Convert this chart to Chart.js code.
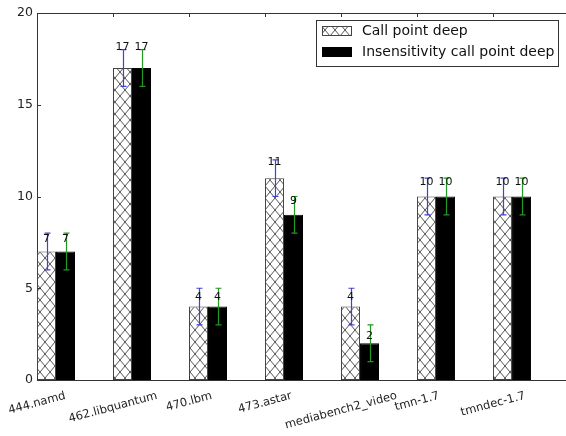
<!DOCTYPE html>
<html lang="en">
<head>
<meta charset="UTF-8">
<title>Call point deep</title>
<script src="https://cdn.jsdelivr.net/npm/chart.js"></script>
<style>
  html, body { margin: 0; padding: 0; background: #fff; }
</style>
</head>
<body>
<canvas id="chart" width="566" height="436"></canvas>
<script>
// benchmark names and measured values
const benchmarks = ['444.namd', '462.libquantum', '470.lbm', '473.astar', 'mediabench2_video', 'tmn-1.7', 'tmndec-1.7'];
const callPointDeep = [7, 17, 4, 11, 4, 10, 10];
const insensitivityDeep = [7, 17, 4, 9, 2, 10, 10];
const callPointErr = [1, 1, 1, 1, 1, 1, 1];
const insensitivityErr = [1, 1, 1, 1, 1, 1, 1];
const yTickValues = [0, 5, 10, 15, 20];

Chart.defaults.font.family = '"DejaVu Sans", sans-serif';

const canvas = document.getElementById('chart');
const ctx = canvas.getContext('2d');

// crosshatch fill like matplotlib 'x' hatch
function makeHatch() {
    const c = document.createElement('canvas');
    c.width = 10;
    c.height = 12;
    const g = c.getContext('2d');
    g.fillStyle = '#fff';
    g.fillRect(0, 0, 10, 12);
    g.strokeStyle = '#555';
    g.lineWidth = 1;
    g.beginPath();
    for (const dx of [-10, 0, 10]) {
        g.moveTo(dx, 0); g.lineTo(dx + 10, 12);
        g.moveTo(dx, 12); g.lineTo(dx + 10, 0);
    }
    g.stroke();
    return ctx.createPattern(c, 'repeat');
}
const hatch = makeHatch();

// center the rotated x labels on their ticks (matplotlib style)
const centerXLabels = {
    id: 'centerXLabels',
    beforeDraw(chart) {
        const sc = chart.scales.x;
        const c = chart.ctx;
        const rot = sc.labelRotation * Math.PI / 180;
        sc.getLabelItems().forEach((item, i) => {
            c.save();
            c.font = item.font.string;
            const w = c.measureText(item.label).width;
            c.restore();
            const h = item.font.size * 1.2;
            const boxH = w * Math.sin(rot) + h * Math.cos(rot);
            item.options.textAlign = 'center';
            item.options.textBaseline = 'middle';
            item.options.translation = [sc.getPixelForTick(i), sc.top + sc.options.ticks.padding + boxH / 2];
            item.textOffset = 0;
        });
    }
};

// inward tick marks, error bars and value labels
const extras = {
    id: 'extras',
    afterDatasetsDraw(chart) {
        const c = chart.ctx;
        const { x, y } = chart.scales;
        const area = chart.chartArea;
        c.save();
        c.strokeStyle = '#333';
        c.lineWidth = 1;
        c.beginPath();
        x.ticks.forEach(t => {
            const px = Math.round(x.getPixelForValue(t.value)) + 0.5;
            c.moveTo(px, area.top); c.lineTo(px, area.top + 4);
            c.moveTo(px, area.bottom); c.lineTo(px, area.bottom - 4);
        });
        y.ticks.forEach(t => {
            const py = Math.round(y.getPixelForValue(t.value)) + 0.5;
            c.moveTo(area.left, py); c.lineTo(area.left + 4, py);
        });
        c.stroke();

        chart.data.datasets.forEach((ds, di) => {
            const meta = chart.getDatasetMeta(di);
            meta.data.forEach((bar, i) => {
                const v = ds.data[i].y;
                const e = ds.errors[i];
                const cx = Math.round(bar.x) + 0.5;
                const yTop = y.getPixelForValue(v + e);
                const yBot = y.getPixelForValue(v - e);
                c.strokeStyle = ds.errColor;
                c.lineWidth = 1.2;
                c.beginPath();
                c.moveTo(cx, yTop); c.lineTo(cx, yBot);
                c.moveTo(cx - 3, yTop); c.lineTo(cx + 3, yTop);
                c.moveTo(cx - 3, yBot); c.lineTo(cx + 3, yBot);
                c.stroke();

                c.fillStyle = '#111';
                c.font = '11px "DejaVu Sans"';
                c.textAlign = 'center';
                c.textBaseline = 'bottom';
                c.fillText(String(v), bar.x, y.getPixelForValue(v * 1.05));
            });
        });
        c.restore();
    },
    afterDraw(chart) {
        // legend box in the upper right of the axes
        const c = chart.ctx;
        const ds = chart.data.datasets;
        c.save();
        c.fillStyle = '#fff';
        c.fillRect(316, 20, 242, 46);
        c.strokeStyle = '#333';
        c.lineWidth = 1;
        c.strokeRect(316.5, 20.5, 242, 46);
        ds.forEach((d, i) => {
            const rowY = 31 + i * 21;
            c.fillStyle = d.backgroundColor;
            c.fillRect(322, rowY - 5, 30, 10);
            c.strokeStyle = d.borderColor;
            c.strokeRect(322.5, rowY - 4.5, 29, 9);
            c.fillStyle = '#111';
            c.font = '14px "DejaVu Sans"';
            c.textAlign = 'left';
            c.textBaseline = 'middle';
            c.fillText(d.label, 362, rowY);
        });
        c.restore();
    }
};

new Chart(ctx, {
    type: 'bar',
    data: {
        datasets: [
            {
                label: 'Call point deep',
                data: callPointDeep.map((v, i) => ({ x: i + 0.25, y: v })),
                errors: callPointErr,
                errColor: '#4040e0',
                backgroundColor: hatch,
                borderColor: '#444',
                borderWidth: 1,
                borderSkipped: false,
                categoryPercentage: 0.5,
                barPercentage: 1.0
            },
            {
                label: 'Insensitivity call point deep',
                data: insensitivityDeep.map((v, i) => ({ x: i + 0.25, y: v })),
                errors: insensitivityErr,
                errColor: '#229922',
                backgroundColor: '#000',
                borderColor: '#000',
                borderWidth: 1,
                borderSkipped: false,
                categoryPercentage: 0.5,
                barPercentage: 1.0
            }
        ]
    },
    options: {
        responsive: false,
        animation: false,
        layout: { padding: 0 },
        plugins: {
            legend: { display: false },
            tooltip: { enabled: false }
        },
        scales: {
            x: {
                type: 'linear',
                position: 'bottom',
                min: 0,
                max: 6.96,
                offset: false,
                afterBuildTicks: s => { s.ticks = benchmarks.map((_, i) => ({ value: i })); },
                afterFit: s => { s.height = 56; s.paddingLeft = 0; s.paddingRight = 0; },
                grid: { display: false, drawTicks: false },
                border: { display: true, color: '#333', width: 1 },
                ticks: {
                    autoSkip: false,
                    minRotation: 15,
                    maxRotation: 15,
                    padding: 9,
                    color: '#222',
                    font: { size: 11.5 },
                    callback: (v, i) => benchmarks[i]
                }
            },
            x2: {
                type: 'linear',
                position: 'top',
                min: 0,
                max: 6.96,
                afterFit: s => { s.height = 13; s.paddingLeft = 0; s.paddingRight = 0; },
                grid: { display: false, drawTicks: false },
                border: { display: true, color: '#333', width: 1 },
                ticks: { display: false }
            },
            y: {
                min: 0,
                max: 20,
                afterBuildTicks: s => { s.ticks = yTickValues.map(v => ({ value: v })); },
                afterFit: s => { s.width = 37; s.paddingTop = 0; s.paddingBottom = 0; },
                grid: { display: false, drawTicks: false },
                border: { display: true, color: '#333', width: 1 },
                ticks: { padding: 4, color: '#222', font: { size: 12.5 } }
            }
        }
    },
    plugins: [centerXLabels, extras]
});
</script>
</body>
</html>
